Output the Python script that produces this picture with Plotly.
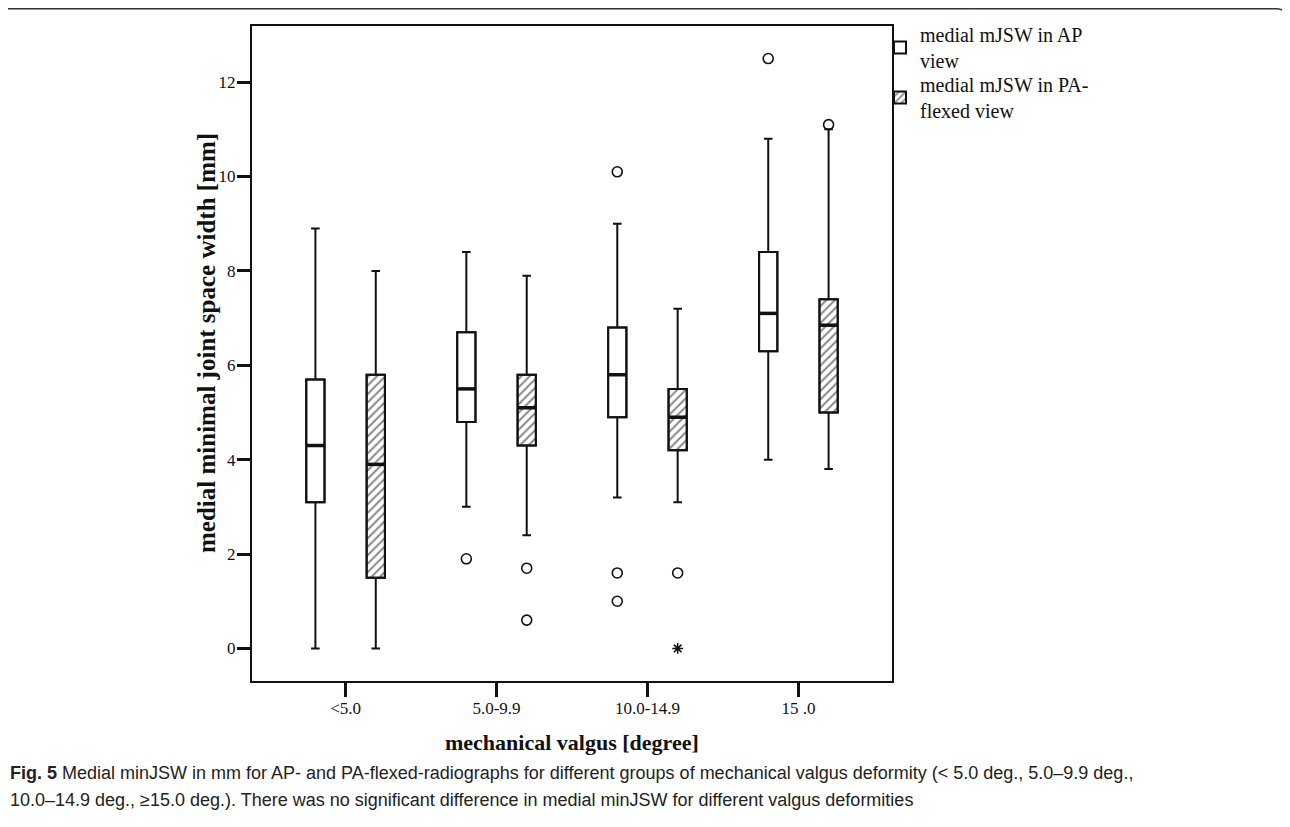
import plotly.graph_objects as go

# ---------------- data ----------------
categories = ["<5.0", "5.0-9.9", "10.0-14.9", "15 .0"]

ap_low = [0.0, 3.0, 3.2, 4.0]
ap_q1 = [3.1, 4.8, 4.9, 6.3]
ap_med = [4.3, 5.5, 5.8, 7.1]
ap_q3 = [5.7, 6.7, 6.8, 8.4]
ap_high = [8.9, 8.4, 9.0, 10.8]

pa_low = [0.0, 2.4, 3.1, 3.8]
pa_q1 = [1.5, 4.3, 4.2, 5.0]
pa_med = [3.9, 5.1, 4.9, 6.85]
pa_q3 = [5.8, 5.8, 5.5, 7.4]
pa_high = [8.0, 7.9, 7.2, 11.0]

ap_outlier_cat = ["5.0-9.9", "10.0-14.9", "10.0-14.9", "10.0-14.9", "15 .0"]
ap_outlier_val = [1.9, 10.1, 1.6, 1.0, 12.5]
pa_outlier_cat = ["5.0-9.9", "5.0-9.9", "10.0-14.9", "15 .0"]
pa_outlier_val = [1.7, 0.6, 1.6, 11.1]
pa_extreme_cat = ["10.0-14.9"]
pa_extreme_val = [0.0]

series_names = ["medial mJSW in AP<br>view", "medial mJSW in PA-<br>flexed view"]
y_ticks = [0, 2, 4, 6, 8, 10, 12]

x_title = "mechanical valgus [degree]"
y_title = "medial minimal joint space width [mm]"
caption_1 = ("<b>Fig. 5</b> Medial minJSW in mm for AP- and PA-flexed-radiographs for different groups "
             "of mechanical valgus deformity (< 5.0 deg., 5.0–9.9 deg.,")
caption_2 = ("10.0–14.9 deg., ≥15.0 deg.). There was no significant difference in medial minJSW "
             "for different valgus deformities")

# ---------------- layout helpers ----------------
# the page has an 8 px body margin, so reference pixel p maps to figure pixel p - 8
PAGE_OFF = 8
W, H = 1282, 819
L, R, T, B = 244, 398, 18, 146
PW, PH = W - L - R, H - T - B


def px2x(px):
    return (px - PAGE_OFF - L) / PW


def px2y(py):
    return (H - B - (py - PAGE_OFF)) / PH


OFF = 0.2
BW = 0.121
idx = {c: i for i, c in enumerate(categories)}
ap_x = [i - OFF for i in range(len(categories))]
pa_x = [i + OFF for i in range(len(categories))]
INK = "#111111"
SERIF = "Liberation Serif, Times New Roman, serif"

fig = go.Figure()

# boxes (fill) as bars so that the hatch pattern can be used
fig.add_trace(go.Bar(
    x=ap_x, base=ap_q1, y=[q3 - q1 for q1, q3 in zip(ap_q1, ap_q3)],
    width=BW, name=series_names[0], legend="legend",
    marker=dict(color="white", line=dict(color=INK, width=2)),
    hoverinfo="skip", showlegend=True,
))
fig.add_trace(go.Bar(
    x=pa_x, base=pa_q1, y=[q3 - q1 for q1, q3 in zip(pa_q1, pa_q3)],
    width=BW, name=series_names[1], legend="legend2",
    marker=dict(color="white", line=dict(color=INK, width=2),
                pattern=dict(shape="/", fgcolor=INK, bgcolor="white", size=6, solidity=0.34)),
    hoverinfo="skip", showlegend=True,
))

# whiskers + box outline
for xs, lo, q1, md, q3, hi in [(ap_x, ap_low, ap_q1, ap_med, ap_q3, ap_high),
                               (pa_x, pa_low, pa_q1, pa_med, pa_q3, pa_high)]:
    fig.add_trace(go.Box(
        x=xs, lowerfence=lo, q1=q1, median=md, q3=q3, upperfence=hi,
        width=BW, whiskerwidth=0.47, boxpoints=False,
        fillcolor="rgba(0,0,0,0)", line=dict(color=INK, width=2),
        showlegend=False, hoverinfo="skip",
    ))

# thick median lines
for xs, md in [(ap_x, ap_med), (pa_x, pa_med)]:
    mx, my = [], []
    for x0, m in zip(xs, md):
        mx += [x0 - BW / 2, x0 + BW / 2, None]
        my += [m, m, None]
    fig.add_trace(go.Scatter(x=mx, y=my, mode="lines", line=dict(color=INK, width=3.5),
                             showlegend=False, hoverinfo="skip"))

# outliers
fig.add_trace(go.Scatter(
    x=[idx[c] - OFF for c in ap_outlier_cat], y=ap_outlier_val, mode="markers",
    marker=dict(symbol="circle-open", size=10, color=INK, line=dict(width=1.6)),
    showlegend=False, hoverinfo="skip"))
fig.add_trace(go.Scatter(
    x=[idx[c] + OFF for c in pa_outlier_cat], y=pa_outlier_val, mode="markers",
    marker=dict(symbol="circle-open", size=10, color=INK, line=dict(width=1.6)),
    showlegend=False, hoverinfo="skip"))
fig.add_trace(go.Scatter(
    x=[idx[c] + OFF for c in pa_extreme_cat], y=pa_extreme_val, mode="markers",
    marker=dict(symbol="asterisk-open", size=9, color=INK, line=dict(width=1.6, color=INK)),
    showlegend=False, hoverinfo="skip"))

# ---------------- figure frame (rounded box) ----------------
frame_top = (f"M {px2x(8)},{px2y(8.75)} L {px2x(1276)},{px2y(8.75)} "
             f"Q {px2x(1288)},{px2y(8.75)} {px2x(1288)},{px2y(21)} L {px2x(1288)},{px2y(830)}")

legend_common = dict(xanchor="left", yanchor="top", bgcolor="rgba(0,0,0,0)",
                     font=dict(family=SERIF, size=20, color=INK), itemclick=False,
                     itemdoubleclick=False)

fig.update_layout(
    width=W, height=H,
    margin=dict(l=L, r=R, t=T, b=B, autoexpand=False),
    paper_bgcolor="white", plot_bgcolor="white",
    font=dict(family=SERIF, color=INK, size=17),
    barmode="overlay", boxmode="overlay",
    showlegend=True,
    legend=dict(x=px2x(880), y=px2y(15), **legend_common),
    legend2=dict(x=px2x(880), y=px2y(65), **legend_common),
    xaxis=dict(range=[-0.62, 3.62], tickvals=list(range(len(categories))), ticktext=categories,
               showgrid=False, zeroline=False, showline=True, linecolor=INK, linewidth=2,
               mirror=True, ticks="outside", ticklen=14, tickwidth=2.5, tickcolor=INK,
               tickfont=dict(size=17, family=SERIF), ticklabelstandoff=-3),
    yaxis=dict(range=[-0.69, 13.19], tickvals=y_ticks, showgrid=False, zeroline=False,
               showline=True, linecolor=INK, linewidth=2, mirror=True,
               ticks="outside", ticklen=13, tickwidth=2.5, tickcolor=INK,
               tickfont=dict(size=17, family=SERIF), ticklabelstandoff=-2),
    shapes=[
        dict(type="path", xref="paper", yref="paper", path=frame_top,
             line=dict(color="#333333", width=1.5), layer="above"),
    ],
    annotations=[
        dict(text=f"<b>{x_title}</b>", xref="paper", yref="paper", x=px2x(572), y=px2y(742),
             xanchor="center", yanchor="middle", showarrow=False,
             font=dict(family=SERIF, size=22, color=INK)),
        dict(text=f"<b>{y_title}</b>", xref="paper", yref="paper", x=px2x(206), y=px2y(343),
             xanchor="center", yanchor="middle", showarrow=False, textangle=-90,
             font=dict(family=SERIF, size=25, color=INK)),
        dict(text=caption_1, xref="paper", yref="paper", x=px2x(8), y=px2y(773),
             xanchor="left", yanchor="middle", showarrow=False, align="left",
             font=dict(family="Liberation Sans, Arial, sans-serif", size=18, color="#222222")),
        dict(text=caption_2, xref="paper", yref="paper", x=px2x(8), y=px2y(800),
             xanchor="left", yanchor="middle", showarrow=False, align="left",
             font=dict(family="Liberation Sans, Arial, sans-serif", size=18, color="#222222")),
    ],
)

fig.write_html("out.html")
